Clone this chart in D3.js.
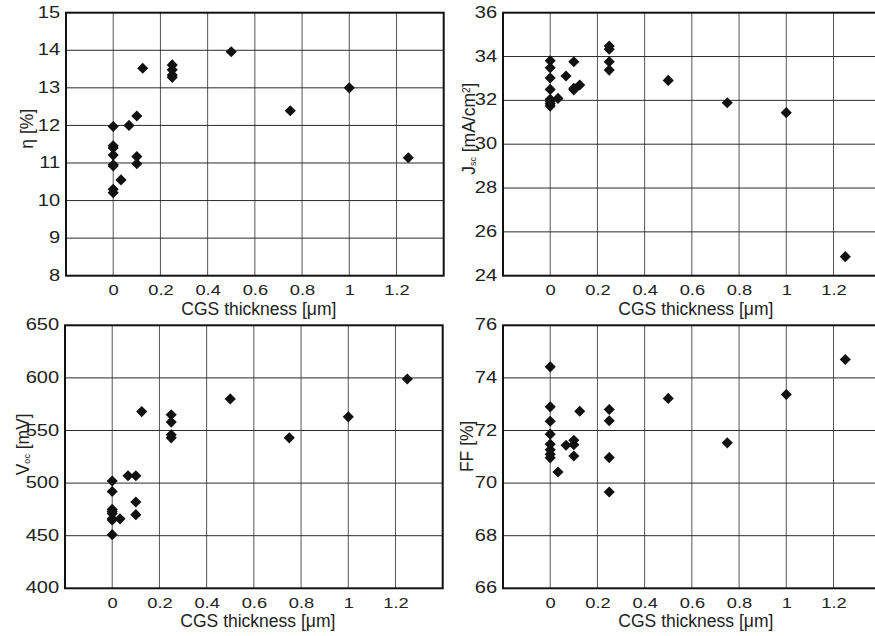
<!DOCTYPE html>
<html>
<head>
<meta charset="utf-8">
<script src="https://cdn.jsdelivr.net/npm/d3@7"></script>
<style>
  body { margin: 0; background: #fff; }
  svg { display: block; font-family: "Liberation Sans", Arial, sans-serif; }
</style>
</head>
<body>
<figure id="cgs-chart" style="margin:0"></figure>
<script>
// CGS thickness for every cell, same order in all four panels
var thickness = [0, 0, 0, 0, 0, 0, 0, 0, 0.033, 0.067, 0.1, 0.1, 0.1, 0.125,
                 0.25, 0.25, 0.25, 0.25, 0.5, 0.75, 1, 1.25];
var eta = [11.97, 11.46, 11.40, 11.21, 10.95, 10.92, 10.30, 10.21, 10.55, 12.0,
           12.25, 11.17, 10.98, 13.52, 13.61, 13.48, 13.34, 13.28, 13.96, 12.39, 13.0, 11.14];
var jsc = [33.81, 33.49, 33.02, 32.50, 32.05, 31.95, 31.85, 31.74, 32.09, 33.11,
           33.76, 32.55, 32.48, 32.70, 34.48, 34.33, 33.76, 33.38, 32.91, 31.89, 31.44, 24.87];
var voc = [502, 492, 475, 473, 471, 466, 465, 451, 466, 507,
           507, 482, 470, 568, 565, 558, 546, 543, 580, 543, 563, 599];
var ff = [74.42, 72.90, 72.35, 71.86, 71.48, 71.27, 71.10, 70.96, 70.42, 71.44,
          71.63, 71.46, 71.03, 72.73, 72.80, 72.37, 70.97, 69.66, 73.22, 71.53, 73.37, 74.70];

var xTicks = [0, 0.2, 0.4, 0.6, 0.8, 1, 1.2];
var xTickLabels = ["0", "0.2", "0.4", "0.6", "0.8", "1", "1.2"];
var etaTicks = [8, 9, 10, 11, 12, 13, 14, 15];
var jscTicks = [24, 26, 28, 30, 32, 34, 36];
var vocTicks = [400, 450, 500, 550, 600, 650];
var ffTicks = [66, 68, 70, 72, 74, 76];
var xTitle = "CGS thickness [\u03bcm]";

// panel layout
var width = 875, height = 636;
var pw = 377.7, ph = 263;

var panels = [
  {left: 66,  top: 12.7,  values: eta, ticks: etaTicks, title: [["\u03b7 [%]", null]], tdx: -33, tdy: 116},
  {left: 503, top: 12.7,  values: jsc, ticks: jscTicks, title: [["J", null], ["sc", "sub"], [" [mA/cm", null], ["2", "sup"], ["]", null]], tdx: -28, tdy: 116},
  {left: 65,  top: 325.3, values: voc, ticks: vocTicks, title: [["V", null], ["oc", "sub"], [" [mV]", null]], tdx: -36, tdy: 119},
  {left: 503, top: 325.3, values: ff,  ticks: ffTicks,  title: [["FF [%]", null]], tdx: -30, tdy: 121}
];

var svg = d3.select("figure#cgs-chart")
  .append("svg")
    .attr("width", width)
    .attr("height", height);

var diamond = d3.symbol().type(d3.symbolSquare).size(62);

panels.forEach(function(p) {
  var g = svg.append("g")
    .attr("transform", "translate(" + p.left + "," + p.top + ")");

  var x = d3.scaleLinear().domain([-0.2, 1.4]).range([0, pw]);
  var y = d3.scaleLinear()
    .domain([p.ticks[0], p.ticks[p.ticks.length - 1]])
    .range([ph, 0]);

  // grid lines
  g.selectAll(".vgrid").data(xTicks).enter()
    .append("line")
      .attr("x1", function(d) { return x(d); })
      .attr("x2", function(d) { return x(d); })
      .attr("y1", 0).attr("y2", ph)
      .attr("stroke", "#555").attr("stroke-width", 1);
  g.selectAll(".hgrid").data(p.ticks.slice(1, -1)).enter()
    .append("line")
      .attr("y1", function(d) { return y(d); })
      .attr("y2", function(d) { return y(d); })
      .attr("x1", 0).attr("x2", pw)
      .attr("stroke", "#2a2a2a").attr("stroke-width", 1);

  // frame
  g.append("rect")
    .attr("width", pw).attr("height", ph)
    .attr("fill", "none").attr("stroke", "#111").attr("stroke-width", 2);

  // Y axis labels
  var ya = g.append("g")
    .call(d3.axisLeft(y).tickValues(p.ticks).tickSize(0).tickPadding(5)
      .tickFormat(d3.format("d")));
  ya.select(".domain").remove();
  ya.selectAll("text")
    .attr("dy", "0.27em")
    .style("font-size", "17px")
    .attr("fill", "#222")
    .attr("transform", "scale(1.18,1)");

  // X axis labels
  var xa = g.append("g")
    .attr("transform", "translate(0," + ph + ")")
    .call(d3.axisBottom(x).tickValues(xTicks).tickSize(0).tickPadding(9)
      .tickFormat(function(d, i) { return xTickLabels[i]; }));
  xa.select(".domain").remove();
  xa.selectAll("text")
    .style("font-size", "15px")
    .attr("fill", "#222")
    .attr("transform", "scale(1.22,1)");

  // X title
  g.append("text")
    .attr("x", x(0.6) + 4)
    .attr("y", ph + 39)
    .attr("text-anchor", "middle")
    .style("font-size", "17.5px")
    .attr("fill", "#222")
    .text(xTitle);

  // Y title
  var yt = g.append("text")
    .attr("transform", "translate(" + p.tdx + "," + p.tdy + ") rotate(-90)")
    .attr("text-anchor", "middle")
    .style("font-size", "17.5px")
    .attr("fill", "#222");
  p.title.forEach(function(t) {
    var s = yt.append("tspan").text(t[0]);
    if (t[1] === "sub") s.attr("baseline-shift", "-15%").style("font-size", "9px");
    if (t[1] === "sup") s.attr("baseline-shift", "super").style("font-size", "10px");
  });

  // points
  g.selectAll(".pt").data(thickness).enter()
    .append("path")
      .attr("d", diamond)
      .attr("transform", function(d, i) {
        return "translate(" + x(d) + "," + y(p.values[i]) + ") rotate(45)";
      })
      .attr("fill", "#111");
});
</script>
</body>
</html>
